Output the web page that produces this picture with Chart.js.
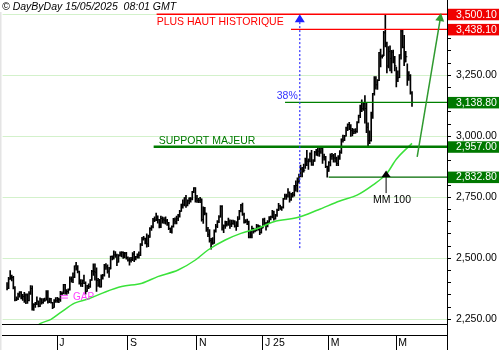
<!DOCTYPE html>
<html>
<head>
<meta charset="utf-8">
<script src="https://cdn.jsdelivr.net/npm/chart.js@4/dist/chart.umd.min.js"></script>
<style>
  html, body { margin: 0; padding: 0; background: #fff; }
  #c { display: block; }
</style>
</head>
<body>
<canvas id="c" width="500" height="350"></canvas>
<script>
// Gold daily bars, 16/05/2024 - 15/05/2025 (one entry per trading day)
const highs = [
  2400,2422,2450,2431,2426,2384,2342,2357,2364,2364,2352,2360,
  2354,2354,2364,2388,2387,2314,2320,2342,2325,2338,2335,2335,2337,2368,2368,2337,2336,2320,2331,2339,
  2340,2337,2365,2363,2393,2393,2372,2375,2424,2424,2440,2469,2483,2470,2448,2413,2412,2431,2404,2389,2395,2413,2451,
  2477,2477,2461,2418,2414,2432,2434,2475,2478,2473,2463,2509,2510,2531,2527,2517,2515,2526,2528,2526,2524,2524,
  2506,2503,2504,2523,2529,2508,2518,2526,2560,2586,2590,2583,2600,2595,2626,2634,2664,2670,2685,2674,2660,
  2673,2670,2667,2670,2660,2647,2625,2633,2664,2666,2673,2680,2697,2722,2740,2749,2758,2740,2748,2749,2774,2790,2790,
  2758,2746,2750,2744,2711,2709,2685,2627,2618,2582,2585,2617,2639,2655,2675,2716,2716,2637,2653,2651,2665,
  2658,2657,2657,2655,2650,2671,2697,2721,2726,2685,2659,2661,2652,2610,2632,2624,2620,2639,2637,2634,2630,
  2663,2665,2647,2655,2671,2673,2697,2693,2680,2702,2725,2718,2712,2746,2763,2763,2786,2772,2766,2770,2799,2817,
  2830,2845,2882,2873,2886,2911,2942,2908,2932,2942,2905,2938,2947,2955,2954,2956,2956,2927,2918,2878,
  2896,2928,2930,2926,2930,2915,2921,2941,2990,3005,3004,3038,3051,3057,3048,3033,3030,3032,3060,3087,3128,
  3149,3136,3167,3135,3055,3022,3099,3176,3245,3245,3232,3344,3357,3334,3430,3500.1,3386,3368,3371,3352,3353,3328,
  3284,3268,3335,3435,3438.1,3414,3348,3297,3265,3253,3183
];
const lows = [
  2370,2376,2413,2407,2374,2325,2326,2330,2341,2334,2327,2319,
  2314,2315,2325,2352,2287,2286,2299,2310,2301,2302,2312,2315,2323,2328,2316,2318,2316,2294,2299,2319,
  2319,2318,2323,2350,2354,2353,2352,2356,2369,2402,2400,2421,2451,2440,2394,2385,2384,2396,2353,2364,2376,2381,2409,
  2430,2410,2364,2385,2382,2382,2414,2427,2454,2439,2422,2456,2493,2496,2504,2470,2484,2509,2506,2499,2502,2496,
  2488,2472,2484,2490,2486,2493,2500,2501,2511,2552,2574,2559,2546,2548,2586,2614,2624,2650,2654,2644,2624,
  2625,2644,2643,2640,2635,2617,2605,2603,2628,2641,2641,2654,2669,2692,2705,2715,2708,2715,2723,2730,2739,2769,2730,
  2729,2728,2728,2652,2643,2678,2610,2589,2566,2537,2557,2561,2607,2625,2646,2669,2615,2605,2622,2632,2635,
  2622,2630,2639,2628,2614,2630,2659,2690,2676,2644,2645,2638,2583,2584,2584,2603,2608,2612,2615,2597,2603,
  2624,2637,2615,2629,2644,2657,2665,2656,2660,2672,2695,2700,2696,2705,2741,2741,2750,2730,2737,2750,2755,2775,
  2772,2808,2834,2834,2853,2868,2880,2864,2895,2881,2881,2897,2922,2920,2918,2930,2889,2902,2871,2832.8,
  2856,2879,2905,2894,2894,2880,2880,2905,2930,2976,2982,3000,3023,3027,2999,3002,3011,3012,3016,3055,3076,
  3101,3106,3054,3015,2957.0,2970,2980,3073,3169,3193,3192,3228,3284,3320,3330,3366,3260,3280,3268,3260,3301,3268,
  3202,3224,3240,3316,3362,3289,3305,3208,3229,3173,3122
];
const closes = [
  2377,2415,2425,2421,2379,2329,2334,2351,2361,2338,2343,2327,
  2350,2327,2355,2376,2294,2311,2316,2325,2303,2333,2319,2329,2328,2360,2321,2334,2319,2298,2327,2326,
  2332,2330,2356,2356,2392,2359,2364,2371,2415,2411,2422,2469,2459,2445,2400,2396,2409,2397,2364,2387,2384,2411,2447,
  2446,2443,2409,2390,2383,2427,2431,2472,2465,2447,2456,2507,2503,2514,2512,2484,2512,2518,2524,2504,2521,2503,
  2493,2492,2495,2517,2497,2506,2516,2512,2558,2578,2582,2569,2559,2587,2622,2629,2657,2657,2672,2658,2634,
  2663,2658,2656,2653,2645,2622,2608,2630,2657,2650,2662,2675,2692,2721,2719,2748,2717,2736,2747,2743,2774,2788,2744,
  2736,2736,2742,2659,2706,2685,2618,2598,2573,2565,2562,2611,2631,2650,2669,2712,2625,2633,2636,2640,2650,
  2640,2643,2650,2632,2633,2660,2694,2718,2680,2648,2652,2646,2587,2595,2622,2612,2617,2633,2621,2606,2624,
  2658,2640,2636,2648,2662,2670,2690,2662,2677,2697,2715,2703,2709,2745,2755,2755,2770,2740,2763,2760,2794,2798,
  2815,2842,2866,2856,2861,2908,2898,2903,2928,2883,2898,2935,2933,2939,2936,2951,2915,2916,2876,2857,
  2893,2918,2920,2911,2910,2889,2917,2934,2988,2984,3001,3034,3048,3044,3023,3011,3020,3020,3057,3085,3124,
  3113,3134,3114,3037,2982,2983,3082,3175,3237,3211,3229,3343,3328,3327,3424,3381,3288,3348,3319,3345,3316,3289,
  3239,3240,3334,3431,3365,3305,3326,3235,3249,3178,3138.8
];

// 100-day moving average, read at selected trading days
const maIdx = [19, 21, 28, 34, 43, 52, 63, 73, 86, 96, 109, 120, 128, 139, 149, 160, 170, 185, 198, 212, 223, 233, 242, 248, 258];
const maVal = [2222, 2232, 2250, 2277, 2316, 2334, 2363, 2384, 2398, 2425, 2452, 2493, 2534, 2575, 2602, 2623, 2650, 2667, 2698, 2735, 2759, 2800, 2848, 2906, 2971];

// Time axis: first trading day of alternate months
const monthTickIdx = [32, 77, 121, 163, 205, 248];
const monthTickLabels = ['J', 'S', 'N', 'J 25', 'M', 'M'];

// Price axis: labelled levels, minor tick step
const yMajor = [2250, 2500, 2750, 3000, 3250, 3500];
const yMinorStep = 50;

// Key levels shown as tags on the price axis
const recordHigh = 3500.1;
const secondTop = 3438.1;
const lastPrice = 3138.8;
const majorSupport = 2957.0;
const febLow = 2832.8;
// Price gap of early July 2024
const gapLevels = [2347, 2337];

const X_MIN = -2.84, X_MAX = 280.3;
const Y_MIN = 2230.7, Y_MAX = 3509.4;

const FONT = '"Liberation Sans", Arial, sans-serif';

function fmtPrice(v) {
  const parts = v.toFixed(2).split('.');
  return parts[0].replace(/\B(?=(\d{3})+(?!\d))/g, ',') + '.' + parts[1];
}

const yTickValues = [];
for (let v = yMajor[0]; v <= yMajor[yMajor.length - 1]; v += yMinorStep) yTickValues.push(v);

const barData = highs.map((h, i) => ({ x: i, y: [lows[i], h] }));
const closeData = closes.map((c, i) => ({ x: i, y: c }));
const maData = maIdx.map((d, i) => ({ x: d, y: maVal[i] }));

function arrowHead(ctx, x0, y0, x1, y1, len, half) {
  const ang = Math.atan2(y1 - y0, x1 - x0);
  ctx.beginPath();
  ctx.moveTo(x1, y1);
  ctx.lineTo(x1 - len * Math.cos(ang) + half * Math.sin(ang), y1 - len * Math.sin(ang) - half * Math.cos(ang));
  ctx.lineTo(x1 - len * Math.cos(ang) - half * Math.sin(ang), y1 - len * Math.sin(ang) + half * Math.cos(ang));
  ctx.closePath();
  ctx.fill();
}

const notes = {
  id: 'notes',
  beforeDraw(chart) {
    const { ctx, width, height } = chart;
    ctx.save();
    ctx.fillStyle = '#fff';
    ctx.fillRect(0, 0, width, height);
    ctx.restore();
  },
  afterDatasetsDraw(chart) {
    const { ctx, chartArea: a, scales: { x, y } } = chart;
    const X = v => x.getPixelForValue(v);
    const Y = v => y.getPixelForValue(v);
    ctx.save();
    ctx.beginPath();
    ctx.rect(a.left, a.top, a.right - a.left, a.bottom - a.top);
    ctx.clip();

    const hline = (v, from, color, w) => {
      ctx.strokeStyle = color;
      ctx.lineWidth = w;
      ctx.beginPath();
      ctx.moveTo(X(from), Y(v));
      ctx.lineTo(a.right, Y(v));
      ctx.stroke();
    };

    // resistance / support levels
    hline(recordHigh, 95.3, '#ff0000', 1.3);
    hline(secondTop, 180.9, '#ff0000', 1.3);
    hline(lastPrice, 177.1, '#008000', 1.3);
    hline(majorSupport, 93.4, '#007a00', 2.6);
    hline(febLow, 204.9, '#006a00', 1.2);

    ctx.textBaseline = 'alphabetic';
    ctx.textAlign = 'left';
    ctx.font = '10.5px ' + FONT;
    ctx.fillStyle = '#ff0000';
    ctx.fillText('PLUS HAUT HISTORIQUE', X(95.3), Y(recordHigh) + 10.5);
    ctx.fillStyle = '#007a00';
    ctx.fillText('SUPPORT MAJEUR', X(96.6), Y(majorSupport) - 2.5);

    // retracement marker
    const bx = X(186.5);
    ctx.strokeStyle = '#3030ff';
    ctx.lineWidth = 1.2;
    ctx.setLineDash([2, 2]);
    ctx.beginPath();
    ctx.moveTo(bx, Y(3468));
    ctx.lineTo(bx, Y(2534));
    ctx.stroke();
    ctx.setLineDash([]);
    ctx.fillStyle = '#2020ff';
    arrowHead(ctx, bx, Y(3460), bx, Y(3500), 8, 5);
    ctx.fillStyle = '#3333ff';
    ctx.textAlign = 'right';
    ctx.fillText('38%', bx - 2, Y(lastPrice) - 3);

    // moving-average tag
    const mx = X(241.5), my = Y(febLow);
    ctx.fillStyle = '#000';
    ctx.beginPath();
    ctx.moveTo(mx, my - 6.5);
    ctx.lineTo(mx - 4.5, my);
    ctx.lineTo(mx + 4.5, my);
    ctx.closePath();
    ctx.fill();
    ctx.strokeStyle = '#000';
    ctx.lineWidth = 1;
    ctx.beginPath();
    ctx.moveTo(mx, my);
    ctx.lineTo(mx, my + 16);
    ctx.stroke();
    ctx.textAlign = 'left';
    ctx.fillText('MM 100', mx - 13, my + 26);

    // projected move
    const ax0 = X(261.3), ay0 = Y(2916), ax1 = X(276.5), ay1 = Y(3505);
    ctx.strokeStyle = '#2f9a2f';
    ctx.fillStyle = '#2f9a2f';
    ctx.lineWidth = 1.5;
    ctx.beginPath();
    ctx.moveTo(ax0, ay0);
    ctx.lineTo(ax1 - 0.5, ay1 + 4);
    ctx.stroke();
    arrowHead(ctx, ax0, ay0, ax1, ay1, 8, 4.5);

    // gap
    ctx.strokeStyle = '#ff40ff';
    ctx.lineWidth = 1;
    gapLevels.forEach(g => {
      ctx.beginPath();
      ctx.moveTo(X(34), Y(g));
      ctx.lineTo(X(38.8), Y(g));
      ctx.stroke();
    });
    ctx.fillStyle = '#ff40ff';
    ctx.font = '10px ' + FONT;
    ctx.textBaseline = 'middle';
    ctx.fillText('GAP', X(42), Y(2340));
    ctx.restore();
  },
  afterDraw(chart) {
    const { ctx, chartArea: a, scales: { y }, width, height } = chart;
    ctx.save();
    // left margin strip
    ctx.fillStyle = '#e4e4e4';
    ctx.fillRect(0, a.top, 1.5, height - a.top);
    // right frame line through the whole height
    ctx.strokeStyle = '#000';
    ctx.lineWidth = 1;
    ctx.beginPath();
    ctx.moveTo(a.right + 0.5, 0);
    ctx.lineTo(a.right + 0.5, height);
    ctx.stroke();

    // price tags
    const tags = [
      [recordHigh, '#f00000'],
      [secondTop, '#f00000'],
      [lastPrice, '#007800'],
      [majorSupport, '#007800'],
      [febLow, '#007800']
    ];
    ctx.font = '10.5px ' + FONT;
    ctx.textBaseline = 'middle';
    ctx.textAlign = 'left';
    tags.forEach(([v, col]) => {
      const py = y.getPixelForValue(v);
      ctx.fillStyle = col;
      ctx.fillRect(a.right + 1, py - 5.5, width - a.right - 2, 11.5);
      ctx.fillStyle = '#fff';
      ctx.fillText(fmtPrice(v), a.right + 9, py + 0.5);
    });

    // header
    ctx.fillStyle = '#000';
    ctx.font = 'italic 10.5px ' + FONT;
    ctx.textBaseline = 'alphabetic';
    ctx.fillText('\u00A9 DayByDay 15/05/2025  08:01 GMT', 2, 10);
    ctx.restore();
  }
};

new Chart(document.getElementById('c'), {
  type: 'bar',
  data: {
    datasets: [
      {
        type: 'line',
        data: maData,
        borderColor: '#3ae23a',
        borderWidth: 1.5,
        pointRadius: 0,
        cubicInterpolationMode: 'monotone',
        order: 0
      },
      {
        type: 'line',
        data: closeData,
        showLine: false,
        pointStyle: 'dash',
        pointRadius: 1.6,
        pointBorderWidth: 1,
        pointBorderColor: '#000',
        pointBackgroundColor: '#000',
        pointHoverRadius: 0,
        order: 1
      },
      {
        type: 'bar',
        data: barData,
        backgroundColor: '#000',
        borderWidth: 0,
        barThickness: 1,
        grouped: false,
        order: 2
      }
    ]
  },
  options: {
    responsive: false,
    animation: false,
    events: [],
    layout: { padding: { top: 12, left: 0, right: 0, bottom: 0 } },
    plugins: { legend: { display: false }, tooltip: { enabled: false } },
    scales: {
      x: {
        type: 'linear',
        offset: false,
        min: X_MIN,
        max: X_MAX,
        weight: 0,
        ticks: { display: false },
        grid: { display: false, drawTicks: false, offset: false },
        border: { display: true, color: '#000', width: 1 },
        afterFit(s) { s.height = 11; }
      },
      x2: {
        type: 'linear',
        position: 'bottom',
        offset: false,
        min: X_MIN,
        max: X_MAX,
        weight: 1,
        afterBuildTicks(s) { s.ticks = monthTickIdx.map(v => ({ value: v })); },
        ticks: {
          autoSkip: false,
          maxRotation: 0,
          align: 'start',
          labelOffset: 2,
          padding: -13,
          color: '#000',
          font: { family: FONT, size: 10.5 },
          callback: v => monthTickLabels[monthTickIdx.indexOf(v)] ?? ''
        },
        grid: { drawOnChartArea: false, offset: false, tickLength: 15, color: '#000', tickColor: '#000' },
        border: { display: true, color: '#000', width: 1 },
        afterFit(s) { s.height = 15; }
      },
      y: {
        type: 'linear',
        position: 'right',
        min: Y_MIN,
        max: Y_MAX,
        afterBuildTicks(s) { s.ticks = yTickValues.map(v => ({ value: v })); },
        ticks: {
          autoSkip: false,
          padding: 5,
          color: '#000',
          font: { family: FONT, size: 10.5 },
          callback: v => (yMajor.includes(v) ? fmtPrice(v) : '')
        },
        grid: {
          color: c => (c.tick && yMajor.includes(c.tick.value) ? '#d3f1cb' : 'rgba(0,0,0,0)'),
          tickColor: '#000',
          tickLength: 4,
          lineWidth: 1
        },
        border: { display: true, color: '#000', width: 1 },
        afterFit(s) { s.width = 53; }
      }
    }
  },
  plugins: [notes]
});
</script>
</body>
</html>
